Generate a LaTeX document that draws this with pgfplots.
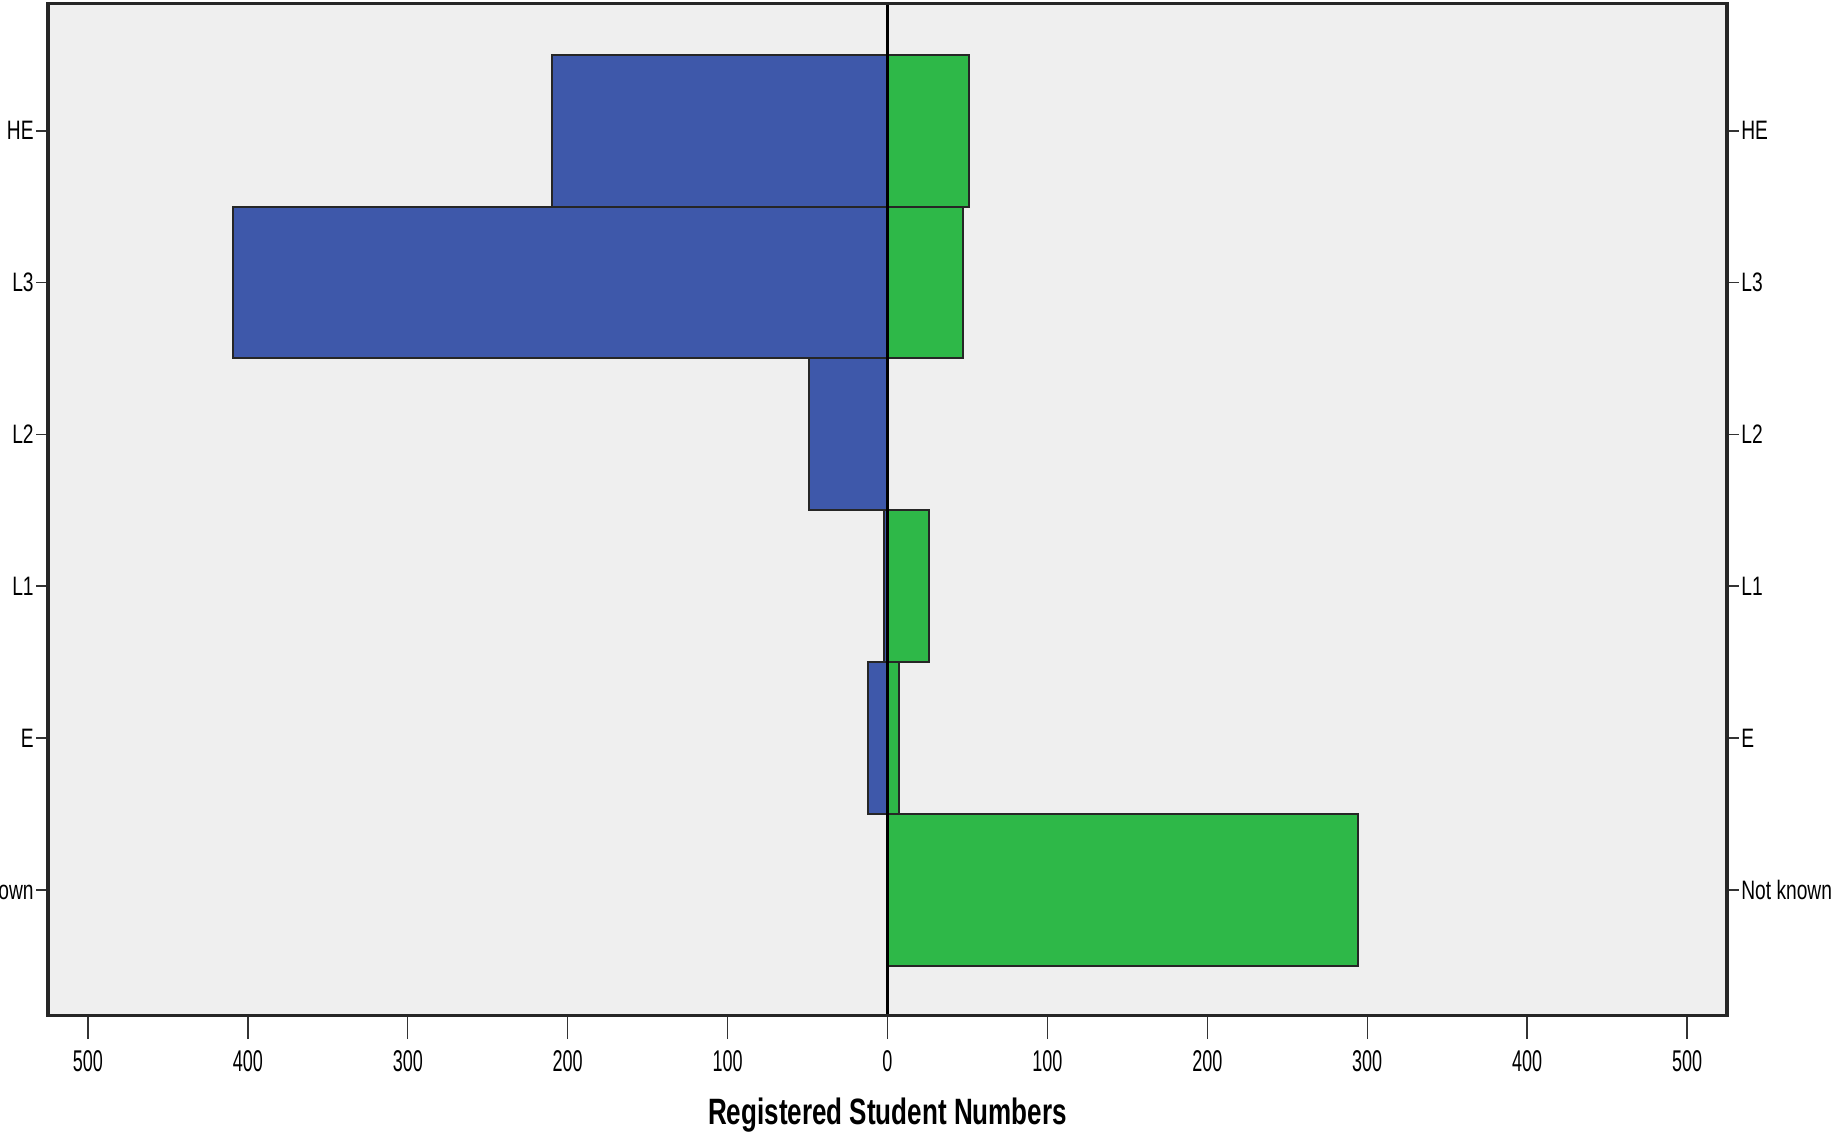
\documentclass[border=0pt]{standalone}
\usepackage{pgfplots}
\pgfplotsset{compat=1.18}
\usepackage{fontspec}
\setmainfont{Liberation Sans}
\newfontfamily\narrowx[FakeStretch=0.6]{Liberation Sans}
\newfontfamily\narrowy[FakeStretch=0.72]{Liberation Sans}
\newfontfamily\narrowb[FakeStretch=0.71]{Liberation Sans}
\definecolor{bgc}{RGB}{239,239,239}
\definecolor{blueb}{RGB}{62,88,170}
\definecolor{greenb}{RGB}{46,184,72}
\begin{document}
\begin{tikzpicture}
\pgfplotsset{
  common/.style={
    scale only axis, width=503.7pt, height=303.7pt,
    xmin=-525, xmax=525, ymin=-0.83, ymax=5.84,
    tick align=outside,
    axis line style={line width=1pt, black!85},
  },
  ycommon/.style={
    common,
    xtick=\empty,
    ytick={0,1,2,3,4,5},
    yticklabels={Not known,E,L1,L2,L3,HE},
    major tick length=3.5pt,
    y tick style={black!80, line width=0.5pt},
    yticklabel style={font=\narrowy\fontsize{8}{9}\selectfont, inner xsep=0.6pt},
  }
}
\begin{axis}[common,
  axis background/.style={fill=bgc},
  xbar, bar shift=0pt, bar width=1,
  ytick=\empty,
  xtick={-500,-400,-300,-200,-100,0,100,200,300,400,500},
  xticklabels={500,400,300,200,100,0,100,200,300,400,500},
  xtick pos=bottom,
  major tick length=7pt,
  x tick style={black!80, line width=0.4pt},
  /pgf/number format/assume math mode=true,
  xticklabel style={font=\narrowx\fontsize{9}{10}\selectfont},
  xlabel={\narrowb\bfseries\fontsize{11}{12}\selectfont Registered Student Numbers},
  xlabel style={yshift=-1pt},
]
\addplot[fill=blueb, draw=black!85, line width=0.6pt] coordinates {
  (-210,5) (-409,4) (-49,3) (-2,2) (-12,1)
};
\addplot[fill=greenb, draw=black!85, line width=0.6pt] coordinates {
  (51,5) (47,4) (26,2) (7,1) (294,0)
};
\draw[black, line width=0.8pt] (axis cs:0,-0.83) -- (axis cs:0,5.84);
\end{axis}
\begin{axis}[ycommon, ytick pos=left, yticklabel pos=left]
\end{axis}
\begin{axis}[ycommon, ytick pos=right, yticklabel pos=right]
\end{axis}
\pgfresetboundingbox
\path[use as bounding box] (-14.4pt,-35.4pt) rectangle (536.1pt,304.7pt);
\end{tikzpicture}
\end{document}
